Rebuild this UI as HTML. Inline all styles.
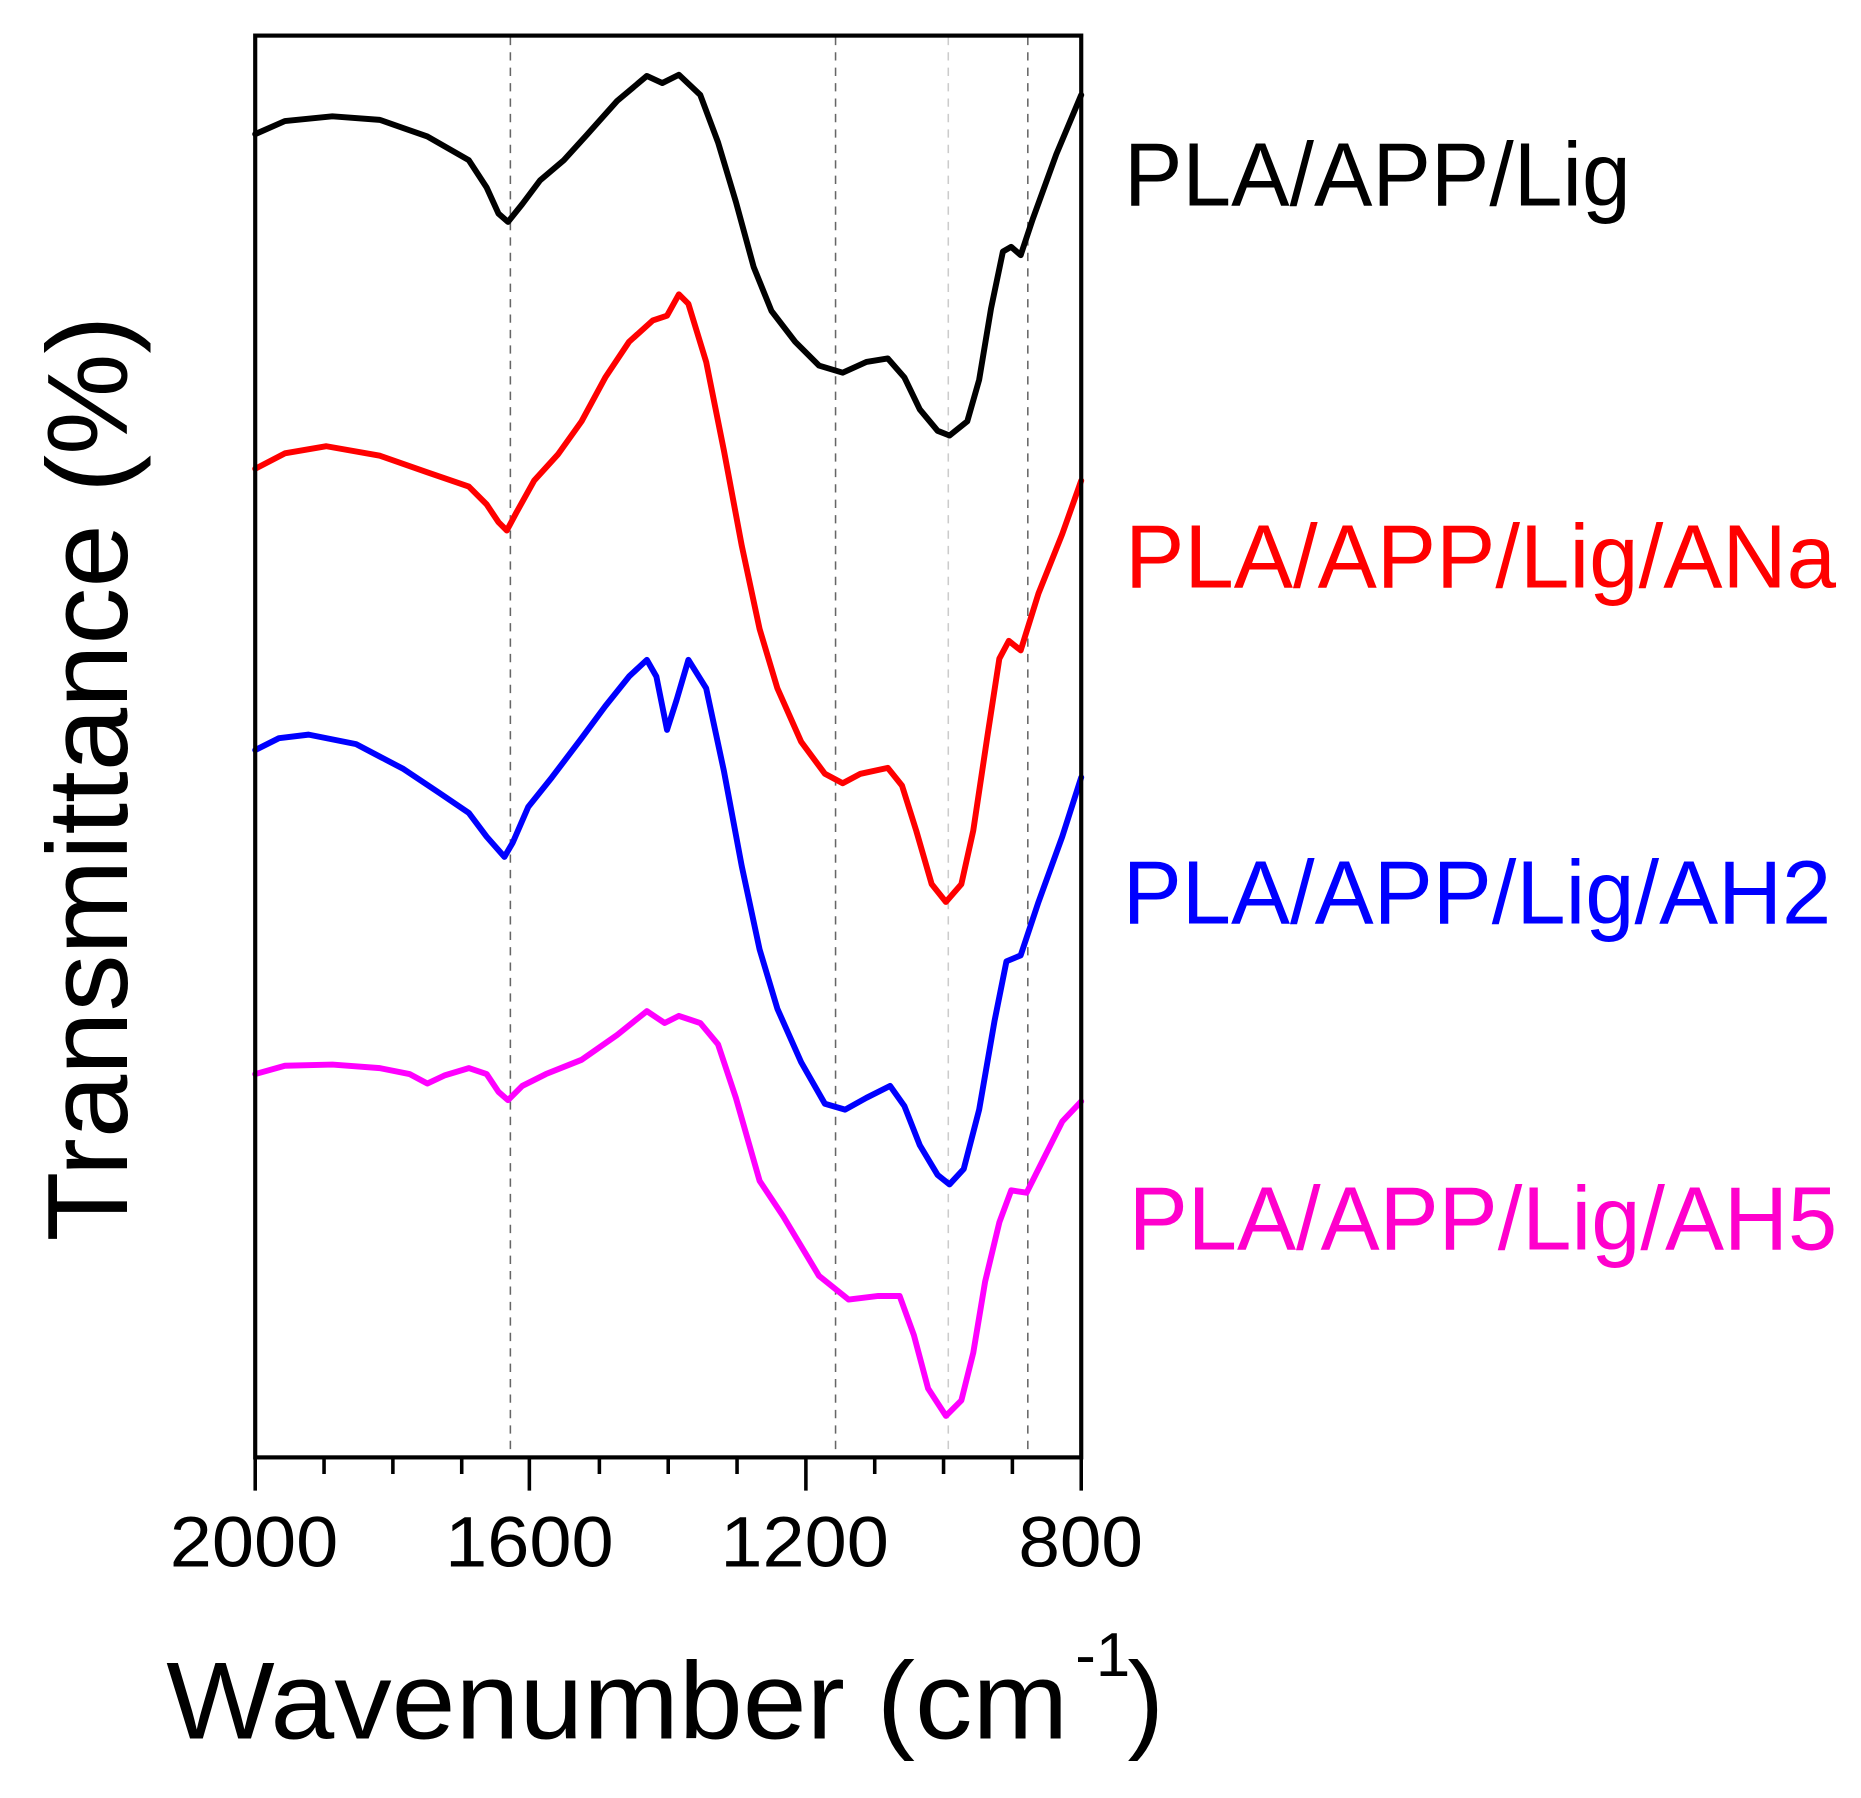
<!DOCTYPE html>
<html><head><meta charset="utf-8"><style>
html,body{margin:0;padding:0;background:#fff;}
svg{display:block;}
text{font-family:"Liberation Sans",Arial,sans-serif;}
</style></head><body>
<svg width="1861" height="1798" viewBox="0 0 1568 1515" xmlns="http://www.w3.org/2000/svg">
<rect width="1568" height="1515" fill="#fff"/>
<g stroke="#666" stroke-width="1.3" stroke-dasharray="7,6">
<line x1="430" y1="31" x2="430" y2="1228"/>
<line x1="704" y1="31" x2="704" y2="1228"/>
<line x1="866" y1="31" x2="866" y2="1228"/>
</g>
<line x1="799" y1="31" x2="799" y2="1228" stroke="#ccc" stroke-width="1.3" stroke-dasharray="7,6"/>
<g fill="none" stroke-width="5" stroke-linejoin="round" stroke-linecap="round">
<polyline stroke="#000" points="215,113 240,102 280,98 320,101 360,115 395,135 410,158 420,180 428,187 440,172 455,152 475,135 495,113 520,85 545,64 558,70 572,63 590,80 605,120 620,170 635,225 650,262 670,288 690,308 710,314 730,305 748,302 762,318 775,345 790,363 800,367 815,355 825,320 835,260 845,212 852,208 860,215 870,185 890,130 911,80"/>
<polyline stroke="#f00" points="215,395 240,382 275,376 320,384 360,398 395,410 410,425 420,440 427,447 435,432 450,405 470,383 490,355 510,318 530,288 550,270 562,266 572,248 580,256 595,305 610,380 625,460 640,530 655,580 675,625 695,652 710,660 725,652 748,647 760,662 772,700 785,745 797,760 810,745 820,700 832,620 842,555 850,540 860,548 875,500 895,450 911,405"/>
<polyline stroke="#00f" points="215,632 235,622 260,619 300,627 340,648 370,668 395,685 410,705 425,722 432,710 445,680 465,655 490,622 510,595 530,570 545,556 553,570 562,615 570,590 580,556 595,580 610,650 625,730 640,800 655,850 675,895 695,930 712,935 730,925 750,915 762,932 775,965 790,990 800,998 812,985 825,935 838,860 848,810 860,805 875,760 895,705 911,655"/>
<polyline stroke="#f0f" points="215,905 240,898 280,897 320,900 345,905 360,913 375,906 395,900 410,905 420,920 428,927 440,915 460,905 490,893 520,872 545,852 560,862 572,856 590,862 605,880 620,925 640,995 660,1025 690,1075 715,1095 740,1092 758,1092 770,1125 782,1170 797,1193 810,1180 820,1140 830,1080 842,1030 852,1003 865,1005 880,975 895,945 911,928"/>
</g>
<rect x="215" y="30" width="696" height="1198" fill="none" stroke="#000" stroke-width="3.5"/>
<g stroke="#000" stroke-width="3">
<line x1="215" y1="1228" x2="215" y2="1256"/>
<line x1="446" y1="1228" x2="446" y2="1256"/>
<line x1="679" y1="1228" x2="679" y2="1256"/>
<line x1="911" y1="1228" x2="911" y2="1256"/>
<line x1="273" y1="1228" x2="273" y2="1242"/>
<line x1="331" y1="1228" x2="331" y2="1242"/>
<line x1="389" y1="1228" x2="389" y2="1242"/>
<line x1="505" y1="1228" x2="505" y2="1242"/>
<line x1="563" y1="1228" x2="563" y2="1242"/>
<line x1="621" y1="1228" x2="621" y2="1242"/>
<line x1="737" y1="1228" x2="737" y2="1242"/>
<line x1="795" y1="1228" x2="795" y2="1242"/>
<line x1="853" y1="1228" x2="853" y2="1242"/>
</g>
<g font-size="60" fill="#000">
<text x="143" y="1320" textLength="142" lengthAdjust="spacingAndGlyphs">2000</text>
<text x="375" y="1320" textLength="142" lengthAdjust="spacingAndGlyphs">1600</text>
<text x="607" y="1320" textLength="142" lengthAdjust="spacingAndGlyphs">1200</text>
<text x="858" y="1320" textLength="105" lengthAdjust="spacingAndGlyphs">800</text>
</g>
<text x="140" y="1465" font-size="92" textLength="760" lengthAdjust="spacingAndGlyphs">Wavenumber (cm</text>
<text x="906" y="1412" font-size="52">-1</text>
<text x="950" y="1465" font-size="92">)</text>
<text transform="translate(107,1046) rotate(-90)" font-size="96" textLength="780" lengthAdjust="spacingAndGlyphs">Transmittance (%)</text>
<text x="947" y="173" font-size="76" fill="#000" textLength="427" lengthAdjust="spacingAndGlyphs">PLA/APP/Lig</text>
<text x="948" y="495" font-size="76" fill="#f00" textLength="599" lengthAdjust="spacingAndGlyphs">PLA/APP/Lig/ANa</text>
<text x="946" y="778" font-size="76" fill="#00f" textLength="597" lengthAdjust="spacingAndGlyphs">PLA/APP/Lig/AH2</text>
<text x="951" y="1053" font-size="76" fill="#f0c" textLength="597" lengthAdjust="spacingAndGlyphs">PLA/APP/Lig/AH5</text>
</svg>
</body></html>
